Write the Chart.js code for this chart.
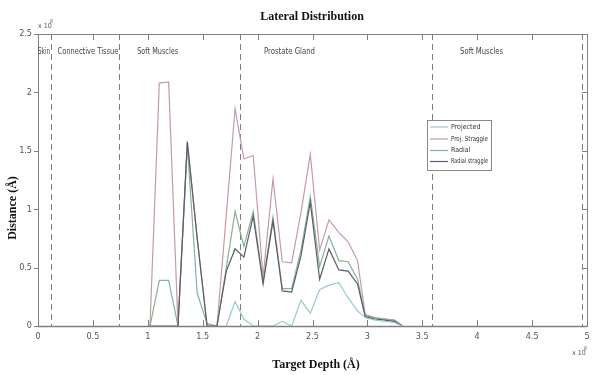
<!DOCTYPE html>
<html>
<head>
<meta charset="utf-8">
<script src="https://cdn.jsdelivr.net/npm/chart.js@4/dist/chart.umd.min.js"></script>
<style>
html,body{margin:0;padding:0;background:#fff;}
#wrap{position:relative;width:598px;height:375px;}
</style>
</head>
<body>
<div id="wrap"><canvas id="c" width="598" height="375"></canvas></div>
<script>
// ---- data (depth in units of 10^8 Å) ----
const depth = [1.02, 1.105, 1.19, 1.275, 1.36, 1.45, 1.54, 1.63, 1.715, 1.795, 1.875, 1.96, 2.05, 2.14,
  2.225, 2.31, 2.395, 2.48, 2.565, 2.65, 2.74, 2.825, 2.91, 2.98, 3.07, 3.16, 3.245, 3.32];
const projected = [null, null, null, null, null, null, null, null, 0, 0.21, 0.06, 0, 0, 0,
  0.04, 0, 0.22, 0.11, 0.31, 0.35, 0.37, 0.24, 0.13, 0.07, 0.05, 0.04, 0.03, 0];
const projStraggle = [0, 2.08, 2.09, 0, 1.57, 0.75, 0, 0, 0.95, 1.86, 1.43, 1.46, 0.42, 1.26,
  0.55, 0.54, 0.97, 1.47, 0.65, 0.91, 0.8, 0.72, 0.56, 0.1, 0.07, 0.06, 0.05, 0];
const radial = [0, 0.39, 0.39, 0, 1.55, 0.28, 0.02, 0, 0.5, 0.98, 0.68, 0.98, 0.38, 0.93,
  0.32, 0.32, 0.65, 1.11, 0.51, 0.77, 0.56, 0.55, 0.4, 0.09, 0.07, 0.06, 0.05, 0];
const radialStraggle = [0, 0, 0, 0, 1.58, 0.75, 0, 0, 0.47, 0.66, 0.59, 0.94, 0.36, 0.9,
  0.3, 0.29, 0.6, 1.06, 0.4, 0.66, 0.48, 0.47, 0.36, 0.08, 0.06, 0.05, 0.04, 0];
const seriesNames = ['Projected', 'Proj. Straggle', 'Radial', 'Radial straggle'];
const xTickLabels = ['0', '0.5', '1', '1.5', '2', '2.5', '3', '3.5', '4', '4.5', '5'];
const yTickLabels = ['0', '0.5', '1', '1.5', '2', '2.5'];
const boundaries = [0.12, 0.74, 1.84, 3.59, 4.95];
const regionNames = ['Skin', 'Connective Tissue', 'Soft Muscles', 'Prostate Gland', 'Soft Muscles'];
const regionCenters = [0.055, 0.455, 1.09, 2.29, 4.04];
const regionWidths = [12, 61, 41, 51, 43];

const colors = ['#96cccc', '#c99aa3', '#86b392', '#5b5a6e'];
const drawOrder = [0, 3, 2, 1];
const toPts = arr => depth.map((d, i) => ({x: d, y: arr[i]}));
const seriesData = [projected, projStraggle, radial, radialStraggle];

const NARROW = "'Liberation Sans Narrow','DejaVu Sans Condensed','Liberation Sans',sans-serif";
const SERIF = "'Liberation Serif','DejaVu Serif',serif";

const deco = {
  id: 'deco',
  beforeDraw(chart) {
    const ctx = chart.ctx;
    ctx.save();
    ctx.fillStyle = '#fff';
    ctx.fillRect(0, 0, chart.width, chart.height);
    ctx.restore();
  },
  beforeDatasetsDraw(chart) {
    const {ctx, chartArea: a, scales: {x}} = chart;
    ctx.save();
    ctx.strokeStyle = '#7d7d7d';
    ctx.lineWidth = 1;
    ctx.setLineDash([6, 4]);
    boundaries.forEach(b => {
      const px = Math.round(x.getPixelForValue(b)) + 0.5;
      ctx.beginPath();
      ctx.moveTo(px, a.top);
      ctx.lineTo(px, a.bottom);
      ctx.stroke();
    });
    ctx.restore();
  },
  afterDraw(chart) {
    const {ctx, chartArea: a, scales: {x, y}} = chart;
    ctx.save();
    // box
    ctx.strokeStyle = '#808080';
    ctx.lineWidth = 1;
    ctx.strokeRect(a.left + 0.5, a.top + 0.5, a.right - a.left, a.bottom - a.top);
    ctx.lineWidth = 1.5;
    ctx.beginPath();
    ctx.moveTo(a.left, a.bottom + 0.5);
    ctx.lineTo(a.right, a.bottom + 0.5);
    ctx.stroke();
    // ticks
    ctx.lineWidth = 1;
    ctx.strokeStyle = '#808080';
    x.ticks.forEach(t => {
      const px = Math.round(x.getPixelForValue(t.value)) + 0.5;
      ctx.beginPath();
      ctx.moveTo(px, a.bottom); ctx.lineTo(px, a.bottom - 6);
      ctx.moveTo(px, a.top); ctx.lineTo(px, a.top + 6);
      ctx.stroke();
    });
    y.ticks.forEach(t => {
      const py = Math.round(y.getPixelForValue(t.value)) + 0.5;
      ctx.beginPath();
      ctx.moveTo(a.left - 4, py); ctx.lineTo(a.left, py);
      ctx.moveTo(a.right, py); ctx.lineTo(a.right - 5, py);
      ctx.stroke();
    });
    // region labels
    ctx.fillStyle = '#444';
    ctx.font = '9px ' + NARROW;
    ctx.textAlign = 'center';
    ctx.textBaseline = 'middle';
    regionNames.forEach((n, i) => {
      ctx.fillText(n, x.getPixelForValue(regionCenters[i]), 52, regionWidths[i]);
    });
    // title & axis titles
    ctx.fillStyle = '#111';
    ctx.font = 'bold 12px ' + SERIF;
    ctx.fillText('Lateral Distribution', 312, 17);
    ctx.fillText('Target Depth (\u00C5)', 316, 365);
    ctx.save();
    ctx.translate(13, 208);
    ctx.rotate(-Math.PI / 2);
    ctx.fillText('Distance (\u00C5)', 0, 0);
    ctx.restore();
    // exponent labels
    ctx.fillStyle = '#555';
    ctx.font = '7px ' + NARROW;
    ctx.textAlign = 'left';
    ctx.fillText('x 10', 38, 26);
    ctx.fillText('x 10', 572, 353);
    ctx.font = '5px ' + NARROW;
    ctx.fillText('8', 50, 22);
    ctx.fillText('8', 584, 349);
    // legend
    const lx = 427, ly = 120, lw = 64, lh = 50;
    ctx.fillStyle = '#fff';
    ctx.fillRect(lx, ly, lw, lh);
    ctx.strokeStyle = '#8a8a8a';
    ctx.strokeRect(lx + 0.5, ly + 0.5, lw, lh);
    const rows = [127, 139, 150.5, 161.5];
    ctx.font = '7px ' + NARROW;
    ctx.textBaseline = 'middle';
    seriesNames.forEach((n, i) => {
      ctx.strokeStyle = colors[i];
      ctx.lineWidth = 1.2;
      ctx.beginPath();
      ctx.moveTo(430, rows[i]); ctx.lineTo(448, rows[i]);
      ctx.stroke();
      ctx.fillStyle = '#333';
      ctx.fillText(n, 451, rows[i], 37);
    });
    ctx.restore();
  }
};

new Chart(document.getElementById('c'), {
  type: 'scatter',
  data: {
    datasets: seriesNames.map((n, i) => ({
      label: n,
      data: toPts(seriesData[i]),
      order: drawOrder[i],
      showLine: true,
      borderColor: colors[i],
      backgroundColor: colors[i],
      borderWidth: 1.2,
      pointRadius: 0,
      pointHoverRadius: 0,
      tension: 0,
      spanGaps: false
    }))
  },
  options: {
    responsive: false,
    animation: false,
    events: [],
    layout: {padding: {left: 0, top: 34, right: 11, bottom: 0}},
    plugins: {legend: {display: false}, title: {display: false}, tooltip: {enabled: false}},
    scales: {
      x: {
        type: 'linear', min: 0, max: 5,
        afterFit: s => { s.height = 49; },
        afterBuildTicks: s => { s.ticks = xTickLabels.map(l => ({value: parseFloat(l)})); },
        grid: {display: false, drawTicks: false},
        border: {display: false},
        ticks: {
          callback: (v, i) => xTickLabels[i],
          font: {size: 9, family: NARROW},
          color: '#555',
          padding: 5,
          maxRotation: 0,
          autoSkip: false
        }
      },
      y: {
        type: 'linear', min: 0, max: 2.5,
        afterFit: s => { s.width = 38; },
        afterBuildTicks: s => { s.ticks = yTickLabels.map(l => ({value: parseFloat(l)})); },
        grid: {display: false, drawTicks: false},
        border: {display: false},
        ticks: {
          callback: (v, i) => yTickLabels[i],
          font: {size: 9, family: NARROW},
          color: '#555',
          padding: 6
        }
      }
    }
  },
  plugins: [deco]
});
</script>
</body>
</html>
